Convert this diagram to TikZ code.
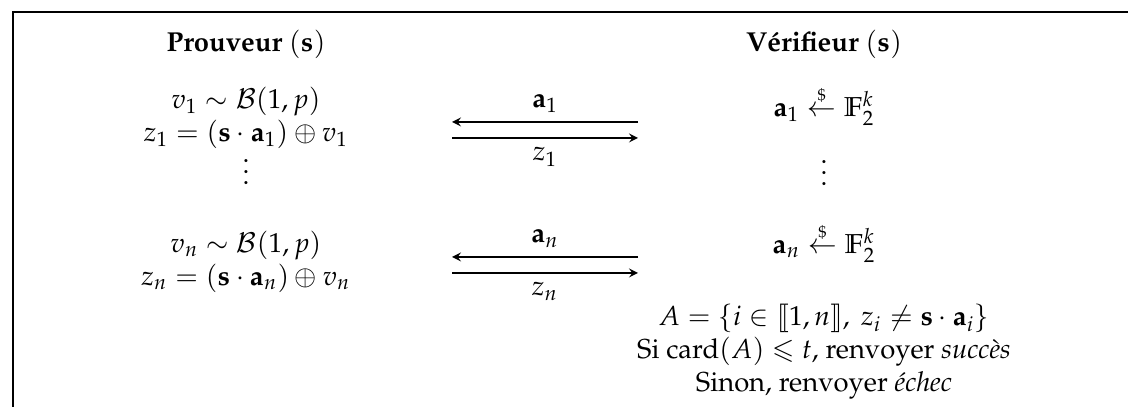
\documentclass[tikz,border=0pt]{standalone}
\usepackage[T1]{fontenc}
\usepackage{mathpazo}
\usepackage{amsmath}
\usepackage{amssymb}
\usetikzlibrary{arrows.meta}
\newcommand{\vect}[1]{\mathbf{#1}}
\newcommand{\tirage}{\mathrel{\overset{\scriptscriptstyle\$}{\leftarrow}}}
\newcommand{\intint}[1]{[\![#1]\!]}

\begin{document}
\begin{tikzpicture}[x=0.365pt,y=-0.365pt]
    \useasboundingbox (0,0) rectangle (1128,407);
    \draw [black, line width=0.7pt] (1128,12) -- (13,12) -- (13,407);

    \node (prouveur) at (246,44) {\textbf{Prouveur} $(\vect{s})$};
    \node (verifieur) at (824,44) {\textbf{V\'erifieur} $(\vect{s})$};

    \node [align=center] (prv1) at (246,118) {$v_1 \sim \mathcal{B}(1,p)$\\$z_1 = (\vect{s}\cdot\vect{a}_1)\oplus v_1$};
    \node (prvdots) at (246,164) {$\vdots$};
    \node [align=center] (prvn) at (246,262) {$v_n \sim \mathcal{B}(1,p)$\\$z_n = (\vect{s}\cdot\vect{a}_n)\oplus v_n$};

    \node (ver1) at (824,106) {$\vect{a}_1 \tirage \mathbb{F}_2^k$};
    \node (vervdots) at (824,165) {$\vdots$};
    \node (vern) at (824,243) {$\vect{a}_n \tirage \mathbb{F}_2^k$};
    \node [align=center] (decision) at (824,352) {$A = \{i \in \intint{1,n},\ z_i \neq \vect{s}\cdot\vect{a}_i\}$\\Si $\operatorname{card}(A) \leqslant t$, renvoyer \emph{succ\`es}\\Sinon, renvoyer \emph{\'echec}};

    \coordinate (g1a) at (452,122);
    \coordinate (d1a) at (638,122);
    \coordinate (g1b) at (452,138);
    \coordinate (d1b) at (638,138);
    \coordinate (gna) at (452,257);
    \coordinate (dna) at (638,257);
    \coordinate (gnb) at (452,273);
    \coordinate (dnb) at (638,273);

    \draw [-stealth][black, line width=0.45pt] (d1a) -- (g1a) node[midway,above] {$\vect{a}_1$};
    \draw [-stealth][black, line width=0.45pt] (g1b) -- (d1b) node[midway,below] {$z_1$};
    \draw [-stealth][black, line width=0.45pt] (dna) -- (gna) node[midway,above] {$\vect{a}_n$};
    \draw [-stealth][black, line width=0.45pt] (gnb) -- (dnb) node[midway,below] {$z_n$};
  \end{tikzpicture}
\end{document}
